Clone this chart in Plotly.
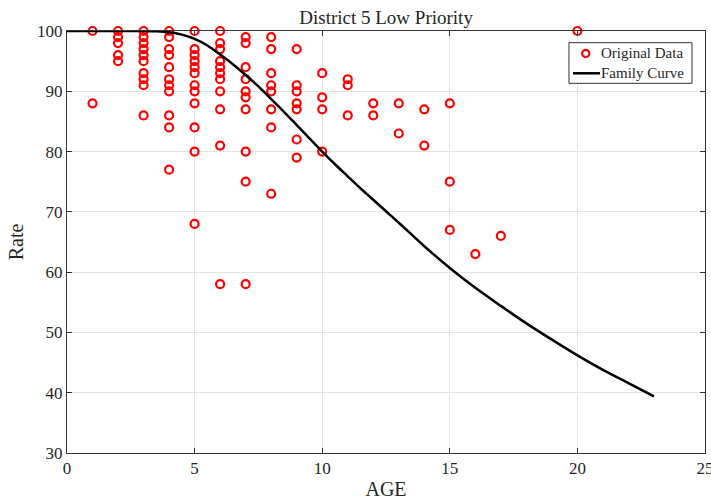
import plotly.graph_objects as go

# Original data: (AGE, Rate)
age = ([1]*2 + [2]*5 + [3]*10 + [4]*11 + [5]*12 + [6]*11 + [7]*10 + [8]*8 + [9]*7
       + [10]*4 + [11]*3 + [12]*2 + [13]*2 + [14]*2 + [15]*3 + [16] + [17] + [20])
rate = ([100, 88]
        + [100, 99, 98, 96, 95]
        + [100, 99, 98, 97, 96, 95, 93, 92, 91, 86]
        + [100, 99, 97, 96, 94, 92, 91, 90, 86, 84, 77]
        + [100, 97, 96, 95, 94, 93, 91, 90, 88, 84, 80, 68]
        + [100, 98, 97, 95, 94, 93, 92, 90, 87, 81, 58]
        + [99, 98, 94, 92, 90, 89, 87, 80, 75, 58]
        + [99, 97, 93, 91, 90, 87, 84, 73]
        + [97, 91, 90, 88, 87, 82, 79]
        + [93, 89, 87, 80]
        + [92, 91, 86]
        + [88, 86]
        + [88, 83]
        + [87, 81]
        + [88, 75, 67]
        + [63]
        + [66]
        + [100])

# Family curve
curve_x = [0, 1, 2, 3, 3.5, 4, 4.5, 5, 5.5, 6, 6.5, 7, 7.5, 8, 8.5, 9, 9.5, 10,
           10.5, 11, 11.5, 12, 12.5, 13, 14, 15, 16, 17, 18, 19, 20, 21, 22, 23]
curve_y = [100, 100, 100, 100, 99.95, 99.8, 99.4, 98.7, 97.6, 96.1, 94.5, 92.7, 90.8,
           88.7, 86.6, 84.4, 82.2, 80.0, 77.9, 75.9, 73.9, 72.0, 70.1, 68.2, 64.3,
           60.7, 57.4, 54.4, 51.5, 48.8, 46.2, 43.8, 41.6, 39.4]

series_names = ["Original Data", "Family Curve"]

font = "Liberation Serif, Times New Roman, serif"
txt = "#262626"

fig = go.Figure()
fig.add_trace(go.Scatter(
    x=age, y=rate, mode="markers", name=series_names[0],
    marker=dict(symbol="circle-open", color="#ff0000", size=8,
                line=dict(color="#ff0000", width=2.2)),
    cliponaxis=False,
))
fig.add_trace(go.Scatter(
    x=curve_x, y=curve_y, mode="lines", name=series_names[1],
    line=dict(color="black", width=2.5, shape="spline", smoothing=0.8),
))

axis_common = dict(
    showgrid=True, gridcolor="#e3e3e3", gridwidth=1,
    showline=True, linecolor="#333333", linewidth=1, mirror="ticks",
    ticks="inside", ticklen=5, tickcolor="#333333",
    tickfont=dict(family=font, size=17, color=txt),
    zeroline=False, ticklabeloverflow="allow", automargin=False,
)

# Legend box (MATLAB-style, compact), drawn in paper coordinates
lx0, lx1, ly0, ly1 = 0.7868, 0.9796, 0.876, 0.9723
row_y = [0.9467, 0.8998]
sym_x = 0.813
text_x = 0.834

shapes = [
    dict(type="rect", xref="paper", yref="paper", x0=lx0, x1=lx1, y0=ly0, y1=ly1,
         line=dict(color="#333333", width=1), fillcolor="white", layer="above"),
    dict(type="circle", xref="paper", yref="paper", xsizemode="pixel", ysizemode="pixel",
         xanchor=sym_x, yanchor=row_y[0], x0=-3.6, x1=3.6, y0=-3.6, y1=3.6,
         line=dict(color="#ff0000", width=2.2), layer="above"),
    dict(type="line", xref="paper", yref="paper", x0=0.7931, x1=0.8354,
         y0=row_y[1], y1=row_y[1], line=dict(color="black", width=2.5), layer="above"),
]
annotations = [
    dict(text=series_names[i], xref="paper", yref="paper", x=text_x, y=row_y[i],
         xanchor="left", yanchor="middle", showarrow=False,
         font=dict(family=font, size=15, color=txt))
    for i in range(2)
]

fig.update_layout(
    width=711, height=501,
    margin=dict(l=67, r=6, t=31, b=48),
    paper_bgcolor="white", plot_bgcolor="white",
    title=dict(text="District 5 Low Priority", x=0.543, xanchor="center",
               y=0.966, yanchor="middle",
               font=dict(family=font, size=19, color=txt)),
    xaxis=dict(range=[0, 25], tickvals=[0, 5, 10, 15, 20, 25],
               title=dict(text="AGE", font=dict(family=font, size=20, color=txt),
                          standoff=4),
               **axis_common),
    yaxis=dict(range=[30, 100], tickvals=[30, 40, 50, 60, 70, 80, 90, 100],
               title=dict(text="Rate", font=dict(family=font, size=20, color=txt),
                          standoff=8),
               **axis_common),
    showlegend=False,
    shapes=shapes,
    annotations=annotations,
)

fig.write_html("out.html")
